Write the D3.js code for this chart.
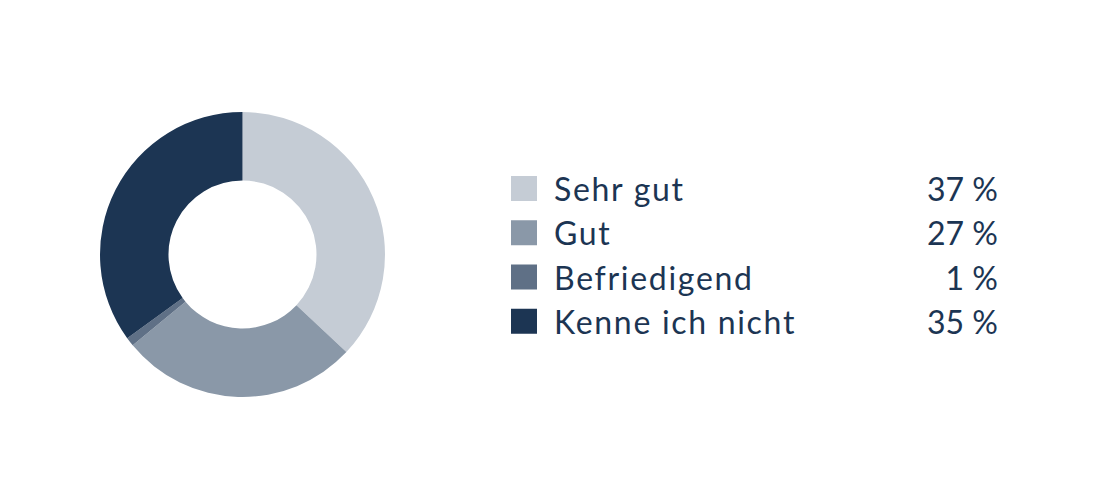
<!DOCTYPE html>
<html>
<head>
<meta charset="utf-8">
<script src="https://cdn.jsdelivr.net/npm/d3@7"></script>
<style>
  body { margin: 0; background: #fff; }
  text { font-family: "Lato", "Open Sans", sans-serif; }
</style>
</head>
<body>
<script>
var categories = ["Sehr gut", "Gut", "Befriedigend", "Kenne ich nicht"],
    values = [37, 27, 1, 35],
    colors = ["#c5ccd5", "#8a98a8", "#5f7086", "#1c3553"],
    textHex = "#1c3553",
    width = 1100,
    height = 500;

var svg = d3.select("body")
    .append("svg")
    .attr("width", width)
    .attr("height", height);

var pie = d3.pie().sort(null).value(function(d) { return d; }),
    arc = d3.arc().innerRadius(74).outerRadius(142.5);

svg.append("g")
    .attr("transform", "translate(242.5,254.5)")
    .selectAll("path")
    .data(pie(values))
    .enter()
    .append("path")
    .attr("d", arc)
    .attr("fill", function(d, i) { return colors[i]; });

var y = d3.scaleBand().domain(categories).range([172, 349]);

var legend = svg.append("g")
    .selectAll("g")
    .data(categories)
    .enter()
    .append("g")
    .attr("transform", function(d) { return "translate(0," + y(d) + ")"; });

legend.append("rect")
    .attr("x", 511)
    .attr("y", 4)
    .attr("width", 26)
    .attr("height", 25)
    .attr("fill", function(d, i) { return colors[i]; });

legend.append("text")
    .attr("x", 554)
    .attr("y", 29)
    .style("font-size", "32px")
    .style("letter-spacing", "1.7px")
    .style("fill", textHex)
    .text(function(d) { return d; });

// no trailing spacing on right-aligned values
legend.append("text")
    .attr("x", 998)
    .attr("y", 29)
    .attr("text-anchor", "end")
    .style("font-size", "32px")
    .style("fill", textHex)
    .text(function(d, i) { return values[i] + " %"; });
</script>
</body>
</html>
